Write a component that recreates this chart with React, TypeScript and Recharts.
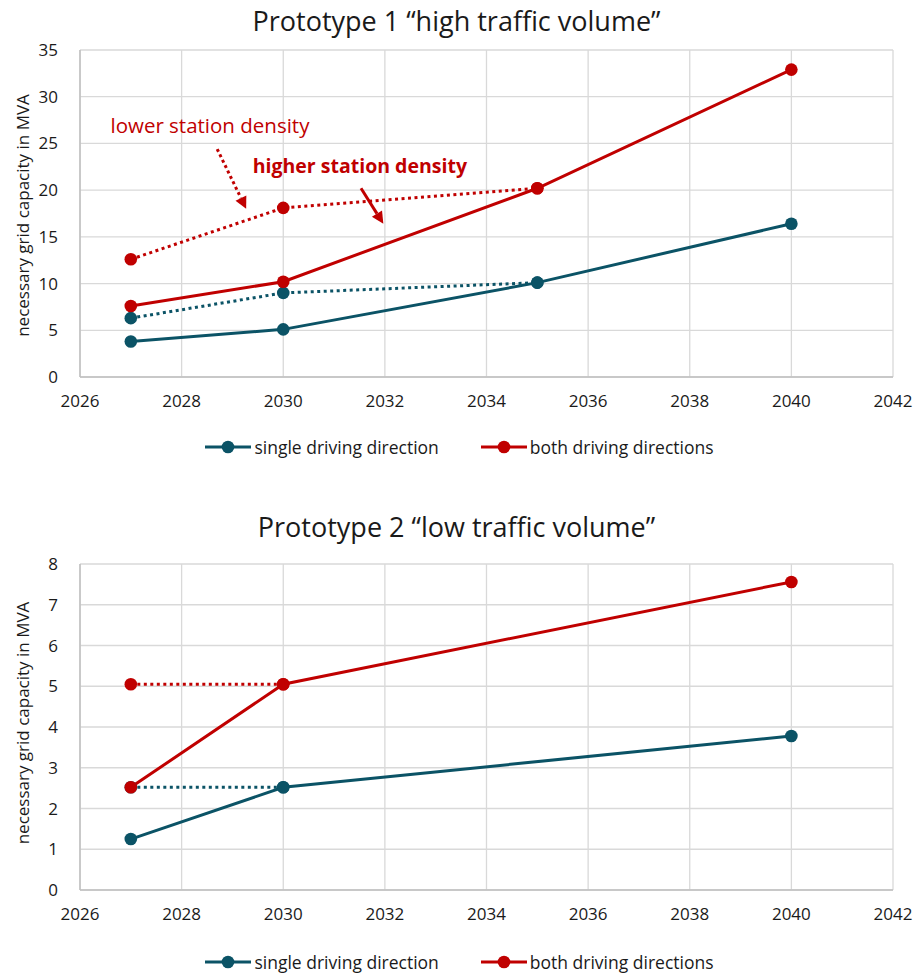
import React from 'react';
import { LineChart, Line, XAxis, YAxis, CartesianGrid, ReferenceLine, ReferenceDot, Legend } from 'recharts';

const FONT = '"Open Sans", sans-serif';
const TEAL = '#0B5366';
const RED = '#C00000';

const xTicks = [2026, 2028, 2030, 2032, 2034, 2036, 2038, 2040, 2042];
const p1YTicks = [0, 5, 10, 15, 20, 25, 30, 35];
const p2YTicks = [0, 1, 2, 3, 4, 5, 6, 7, 8];

// Prototype 1 "high traffic volume"
const p1HighYears = [2027, 2030, 2035, 2040];
const p1SingleHigh = [3.8, 5.1, 10.1, 16.4];
const p1BothHigh = [7.6, 10.2, 20.2, 32.9];
const p1LowYears = [2027, 2030, 2035];
const p1SingleLow = [6.3, 9.0, 10.1];
const p1BothLow = [12.6, 18.1, 20.2];

// Prototype 2 "low traffic volume"
const p2HighYears = [2027, 2030, 2040];
const p2SingleHigh = [1.25, 2.52, 3.78];
const p2BothHigh = [2.52, 5.05, 7.56];
const p2LowYears = [2027, 2030];
const p2SingleLow = [2.52, 2.52];
const p2BothLow = [5.05, 5.05];

const legendNames = ['single driving direction', 'both driving directions'];
const legendColors = [TEAL, RED];

const pts = (xs: number[], ys: number[]) => xs.map((x, i) => ({ x, y: ys[i] }));

const Arrow = (dashed: boolean) => (props: any) => {
  const { x1, y1, x2, y2 } = props;
  const dx = x2 - x1;
  const dy = y2 - y1;
  const len = Math.sqrt(dx * dx + dy * dy);
  const ux = dx / len;
  const uy = dy / len;
  const head = 12;
  const half = 6;
  const bx = x2 - ux * head;
  const by = y2 - uy * head;
  const p1 = `${bx - uy * half},${by + ux * half}`;
  const p2 = `${bx + uy * half},${by - ux * half}`;
  return (
    <g>
      <line x1={x1} y1={y1} x2={bx} y2={by} stroke={RED} strokeWidth={3} strokeDasharray={dashed ? '3 3' : undefined} />
      <polygon points={`${x2},${y2} ${p1} ${p2}`} fill={RED} />
    </g>
  );
};

const TextShape = (text: string, bold: boolean) => (props: any) => (
  <text x={props.cx} y={props.cy} fill={RED} fontSize={bold ? 19.5 : 20.5} fontWeight={bold ? 700 : 400} fontFamily={FONT} textAnchor="start">
    {text}
  </text>
);

const LegendContent = () => (
  <div style={{ display: 'flex', justifyContent: 'center', alignItems: 'center', gap: 42, fontFamily: FONT, fontSize: 17.5, lineHeight: '18px', height: 18, color: '#1a1a1a', paddingLeft: 6 }}>
    {legendNames.map((n, i) => (
      <div key={n} style={{ display: 'flex', alignItems: 'center' }}>
        <svg width={46} height={14} style={{ marginRight: 3 }}>
          <line x1={0} y1={7} x2={46} y2={7} stroke={legendColors[i]} strokeWidth={3} />
          <circle cx={23} cy={7} r={6.3} fill={legendColors[i]} />
        </svg>
        <span>{n}</span>
      </div>
    ))}
  </div>
);

const yLabel = (shift: number) => ({
  content: ({ viewBox }: any) => {
    const x = 22;
    const y = viewBox.y + viewBox.height / 2 + shift;
    return (
      <text x={x} y={y} transform={`rotate(-90 ${x} ${y})`} textAnchor="middle" dominantBaseline="central" fontFamily={FONT} fontSize={17} fill="#1a1a1a">
        necessary grid capacity in MVA
      </text>
    );
  },
});

const tickStyle = { fontFamily: FONT, fontSize: 17, fill: '#1a1a1a' };

const Title = ({ text, top }: { text: string; top: number }) => (
  <div style={{ position: 'absolute', left: 0, top, width: 913, textAlign: 'center', fontFamily: FONT, fontSize: 27, color: '#1a1a1a', lineHeight: '34px' }}>
    {text}
  </div>
);

const solidLine = (key: string, data: any[], color: string) => (
  <Line key={key} data={data} dataKey="y" type="linear" stroke={color} strokeWidth={3} dot={{ r: 6.3, fill: color, stroke: 'none' }} isAnimationActive={false} legendType="none" />
);
const dottedLine = (key: string, data: any[], color: string) => (
  <Line key={key} data={data} dataKey="y" type="linear" stroke={color} strokeWidth={3} strokeDasharray="3 3.5" dot={{ r: 6.3, fill: color, stroke: 'none', strokeDasharray: '0' }} isAnimationActive={false} legendType="none" />
);

export default function App() {
  return (
    <div style={{ position: 'absolute', left: 0, top: 0, width: 913, height: 973, background: '#fff', overflow: 'hidden' }}>
      <Title text="Prototype 1 “high traffic volume”" top={4} />
      <div style={{ position: 'absolute', left: 0, top: 0 }}>
        <LineChart width={913} height={480} margin={{ top: 50, right: 20, bottom: 73, left: 0 }}>
          <CartesianGrid stroke="#d9d9d9" strokeWidth={1.3} />
          <XAxis type="number" dataKey="x" domain={[2026, 2042]} ticks={xTicks} tickLine={false} axisLine={{ stroke: '#bfbfbf', strokeWidth: 1.5 }} tick={tickStyle} tickMargin={12} height={30} interval={0} allowDuplicatedCategory={false} />
          <YAxis type="number" domain={[0, 35]} ticks={p1YTicks} tickLine={false} axisLine={{ stroke: '#bfbfbf', strokeWidth: 1.5 }} tick={tickStyle} tickMargin={16} width={80} interval={0} label={yLabel(2)} />
          {dottedLine('p1sl', pts(p1LowYears, p1SingleLow), TEAL)}
          {dottedLine('p1bl', pts(p1LowYears, p1BothLow), RED)}
          {solidLine('p1sh', pts(p1HighYears, p1SingleHigh), TEAL)}
          {solidLine('p1bh', pts(p1HighYears, p1BothHigh), RED)}
          <ReferenceLine segment={[{ x: 2028.7, y: 24.4 }, { x: 2029.27, y: 18.0 }]} shape={Arrow(true)} ifOverflow="visible" />
          <ReferenceLine segment={[{ x: 2031.53, y: 20.2 }, { x: 2031.97, y: 16.4 }]} shape={Arrow(false)} ifOverflow="visible" />
          <ReferenceDot x={2026.6} y={26.1} r={0} shape={TextShape('lower station density', false)} ifOverflow="visible" />
          <ReferenceDot x={2029.4} y={21.8} r={0} shape={TextShape('higher station density', true)} ifOverflow="visible" />
          <Legend verticalAlign="middle" align="center" layout="horizontal" content={LegendContent} wrapperStyle={{ top: 438, left: 0, width: 913 }} />
        </LineChart>
      </div>
      <Title text="Prototype 2 “low traffic volume”" top={510} />
      <div style={{ position: 'absolute', left: 0, top: 490 }}>
        <LineChart width={913} height={483} margin={{ top: 74, right: 20, bottom: 53, left: 0 }}>
          <CartesianGrid stroke="#d9d9d9" strokeWidth={1.3} />
          <XAxis type="number" dataKey="x" domain={[2026, 2042]} ticks={xTicks} tickLine={false} axisLine={{ stroke: '#bfbfbf', strokeWidth: 1.5 }} tick={tickStyle} tickMargin={12} height={30} interval={0} allowDuplicatedCategory={false} />
          <YAxis type="number" domain={[0, 8]} ticks={p2YTicks} tickLine={false} axisLine={{ stroke: '#bfbfbf', strokeWidth: 1.5 }} tick={tickStyle} tickMargin={16} width={80} interval={0} label={yLabel(-4)} />
          {dottedLine('p2sl', pts(p2LowYears, p2SingleLow), TEAL)}
          {dottedLine('p2bl', pts(p2LowYears, p2BothLow), RED)}
          {solidLine('p2sh', pts(p2HighYears, p2SingleHigh), TEAL)}
          {solidLine('p2bh', pts(p2HighYears, p2BothHigh), RED)}
          <Legend verticalAlign="middle" align="center" layout="horizontal" content={LegendContent} wrapperStyle={{ top: 463, left: 0, width: 913 }} />
        </LineChart>
      </div>
    </div>
  );
}
